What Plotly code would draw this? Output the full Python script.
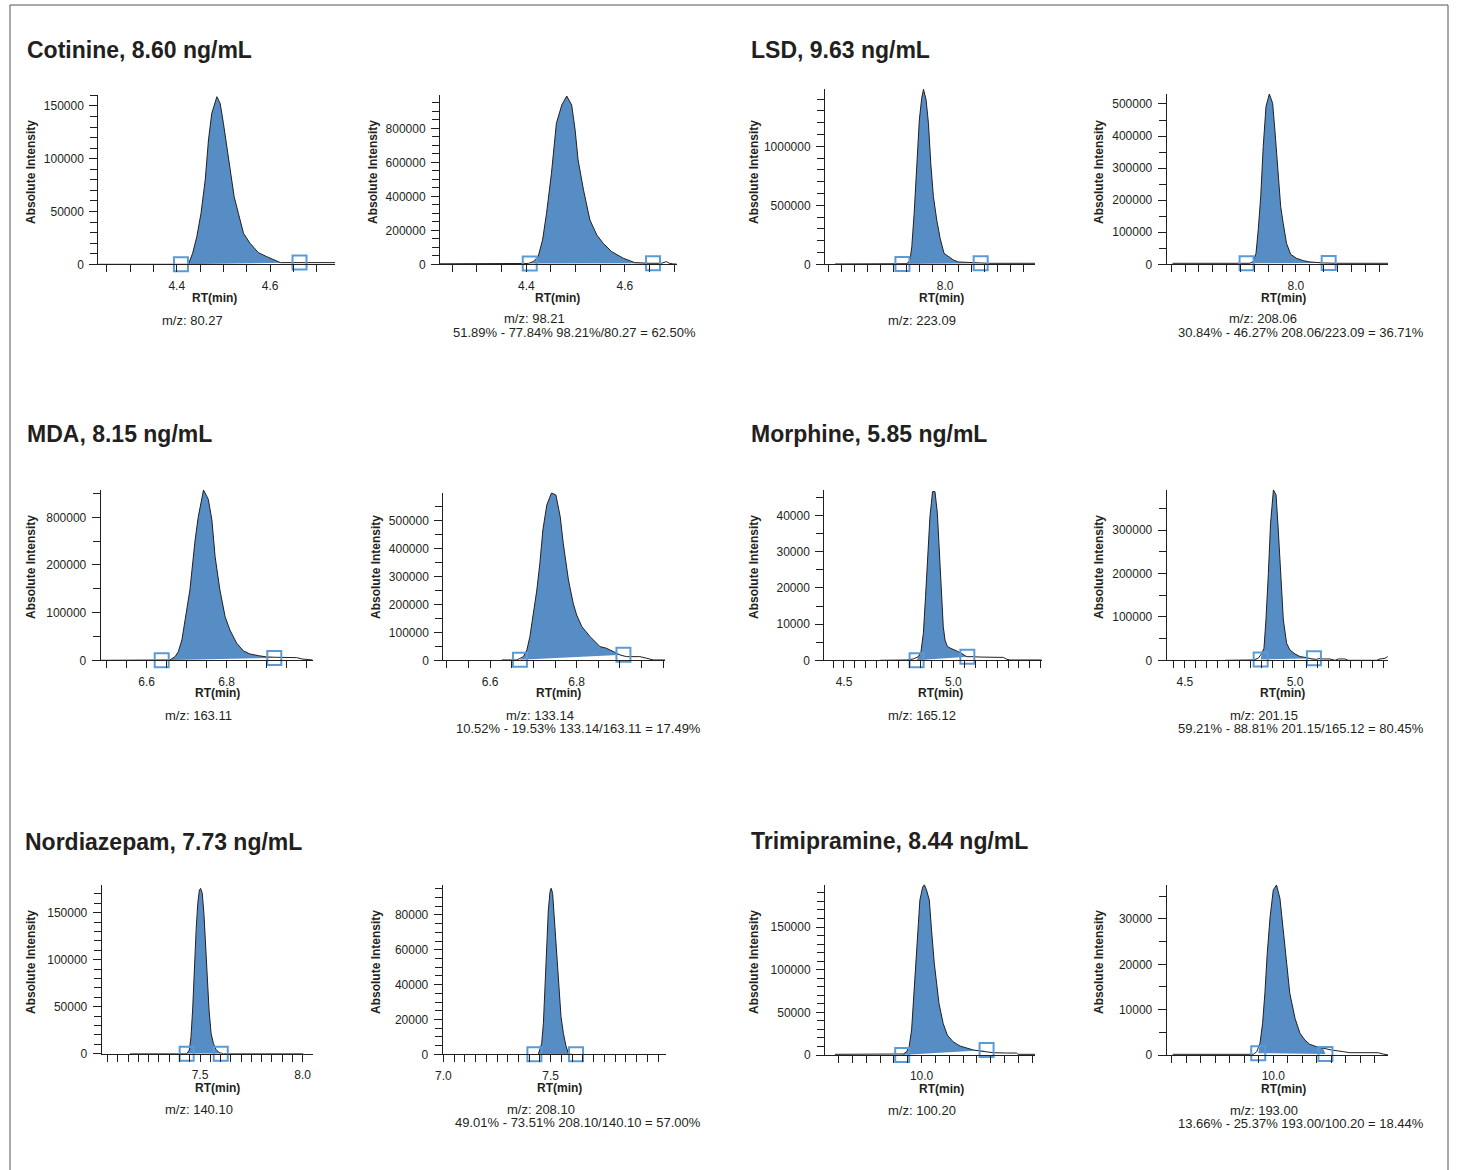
import plotly.graph_objects as go

W, H = 1457, 1170
FONT = "Liberation Sans, Arial, Helvetica, sans-serif"
INK = "#231f20"
FILL = "#568dc4"
BOX = "#5b9bd5"

# ---------------- data (RT in min, absolute intensity) ----------------
compounds = ["Cotinine, 8.60 ng/mL", "LSD, 9.63 ng/mL", "MDA, 8.15 ng/mL",
             "Morphine, 5.85 ng/mL", "Nordiazepam, 7.73 ng/mL", "Trimipramine, 8.44 ng/mL"]

mz_labels = ["m/z: 80.27", "m/z: 98.21", "m/z: 223.09", "m/z: 208.06",
             "m/z: 163.11", "m/z: 133.14", "m/z: 165.12", "m/z: 201.15",
             "m/z: 140.10", "m/z: 208.10", "m/z: 100.20", "m/z: 193.00"]

ratio_labels = [None, "51.89% - 77.84% 98.21%/80.27 = 62.50%",
                None, "30.84% - 46.27% 208.06/223.09 = 36.71%",
                None, "10.52% - 19.53% 133.14/163.11 = 17.49%",
                None, "59.21% - 88.81% 201.15/165.12 = 80.45%",
                None, "49.01% - 73.51% 208.10/140.10 = 57.00%",
                None, "13.66% - 25.37% 193.00/100.20 = 18.44%"]

# labelled RT ticks per panel
x_tick_values = [[4.4, 4.6], [4.4, 4.6], [8.0], [8.0],
                 [6.6, 6.8], [6.6, 6.8], [4.5, 5.0], [4.5, 5.0],
                 [7.5, 8.0], [7.0, 7.5], [10.0], [10.0]]

cot_q_rt = [4.232, 4.400, 4.425, 4.434, 4.443, 4.452, 4.461, 4.468, 4.475, 4.486, 4.493, 4.500,
            4.507, 4.514, 4.523, 4.532, 4.543, 4.557, 4.575, 4.593, 4.615, 4.622, 4.739]
cot_q_int = [0, 0, 0, 10400, 26200, 48300, 79900, 117800, 143000, 158800, 152500, 133600,
             111400, 89300, 64000, 48300, 29400, 19900, 11000, 7200, 2500, 1600, 1600]
cot_q_box_rt = [4.409, 4.663]
cot_q_box_int = [0, 1600]

cot_i_rt = [4.225, 4.404, 4.414, 4.424, 4.433, 4.441, 4.451, 4.461, 4.472, 4.482, 4.492, 4.499,
            4.505, 4.516, 4.529, 4.543, 4.556, 4.573, 4.597, 4.620, 4.651, 4.674, 4.684, 4.690,
            4.698, 4.705]
cot_i_int = [3000, 5000, 15700, 45100, 143100, 300000, 535300, 829400, 937300, 990200, 937300, 790200,
             613700, 437300, 260800, 172500, 123500, 74500, 35300, 9800, 6000, 6000, 15700, 6000,
             2000, 2000]
cot_i_box_rt = [4.407, 4.657]
cot_i_box_int = [4000, 6000]

lsd_q_rt = [7.577, 7.853, 7.865, 7.872, 7.881, 7.891, 7.901, 7.910, 7.917, 7.927, 7.936, 7.945,
            7.955, 7.968, 7.981, 7.996, 8.013, 8.032, 8.051, 8.096, 8.167, 8.346]
lsd_q_int = [3000, 5000, 36700, 149700, 432200, 856000, 1223000, 1406900, 1483000, 1392700, 1195000,
             856000, 573500, 375700, 220400, 93200, 65000, 36700, 19800, 14100, 8500, 8500]
lsd_q_box_rt = [7.836, 8.137]
lsd_q_box_int = [3000, 8500]

lsd_i_rt = [7.555, 7.834, 7.846, 7.856, 7.864, 7.873, 7.882, 7.892, 7.904, 7.916, 7.924, 7.934,
            7.945, 7.954, 7.966, 7.981, 8.002, 8.026, 8.050, 8.099, 8.147, 8.333]
lsd_i_int = [3100, 3100, 8300, 34300, 107000, 211000, 367000, 491700, 531200, 502000, 418900, 304600,
             179800, 127900, 65500, 31200, 18700, 11400, 7300, 4200, 3100, 3100]
lsd_i_box_rt = [7.822, 8.118]
lsd_i_box_int = [3100, 4200]

mda_q_rt = [6.485, 6.633, 6.658, 6.671, 6.679, 6.688, 6.696, 6.708, 6.721, 6.729, 6.742, 6.754,
            6.763, 6.771, 6.783, 6.796, 6.808, 6.825, 6.842, 6.858, 6.879, 6.900, 6.925, 6.942,
            6.975, 6.988, 7.004, 7.015]
mda_q_int = [0, 0, 700, 7700, 18200, 42700, 84600, 147600, 252400, 301400, 357300, 337800,
             294400, 217500, 147600, 91600, 63600, 35700, 19600, 13300, 9800, 7000, 6300, 5600,
             5600, 2800, 700, 700]
mda_q_box_rt = [6.6375, 6.919]
mda_q_box_int = [0, 5000]
mda_q_yticks = [0, 100000, 200000, 300000]
mda_q_ylabels = ["0", "100000", "200000", "800000"]

mda_i_rt = [6.627, 6.662, 6.677, 6.685, 6.692, 6.700, 6.708, 6.715, 6.722, 6.731, 6.742, 6.752,
            6.762, 6.769, 6.781, 6.792, 6.800, 6.812, 6.831, 6.854, 6.869, 6.885, 6.900, 6.915,
            6.931, 6.946, 6.962, 6.977, 7.004]
mda_i_int = [1200, 1200, 13100, 36900, 84500, 167900, 251200, 346400, 465500, 554800, 598000, 590500,
             513100, 417900, 286900, 203600, 161900, 120200, 84500, 48800, 42900, 31000, 19000, 13100,
             13100, 13100, 7100, 1200, 1200]
mda_i_box_rt = [6.669, 6.908]
mda_i_box_int = [2000, 20000]

mor_q_rt = [4.665, 4.787, 4.817, 4.840, 4.852, 4.863, 4.873, 4.883, 4.893, 4.905, 4.916, 4.927,
            4.936, 4.945, 4.954, 4.962, 4.973, 4.988, 5.000, 5.015, 5.038, 5.061, 5.091, 5.122,
            5.229, 5.244, 5.259, 5.335, 5.404]
mor_q_int = [0, 90, 370, 1000, 2400, 7500, 17600, 28700, 39700, 46640, 46640, 40650,
             29600, 17600, 9300, 5600, 3800, 3300, 2900, 2600, 1900, 1000, 1000, 900,
             800, 280, 90, 90, 90]
mor_q_box_rt = [4.832, 5.064]
mor_q_box_int = [0, 1000]

mor_i_rt = [4.682, 4.811, 4.833, 4.849, 4.859, 4.868, 4.879, 4.889, 4.902, 4.914, 4.924, 4.935,
            4.947, 4.962, 4.977, 5.000, 5.023, 5.053, 5.076, 5.098, 5.114, 5.129, 5.159, 5.182,
            5.197, 5.227, 5.242, 5.280, 5.371, 5.386, 5.409, 5.421]
mor_i_int = [0, 800, 4600, 16100, 27700, 93100, 200700, 316100, 393000, 381400, 300700, 185300,
             93100, 39200, 23800, 14600, 8500, 6200, 3100, 2300, 4600, 3100, 3100, 0,
             3100, 3100, 0, 0, 0, 3100, 4600, 8500]
mor_i_box_rt = [4.844, 5.086]
mor_i_box_int = [2000, 5000]

nor_q_rt = [7.159, 7.435, 7.448, 7.456, 7.464, 7.472, 7.481, 7.489, 7.497, 7.503, 7.511, 7.519,
            7.528, 7.536, 7.544, 7.554, 7.565, 7.578, 7.594, 7.614, 8.003]
nor_q_int = [0, 0, 3900, 18100, 46500, 89000, 131600, 159900, 174100, 175900, 170600, 149300,
             113800, 78400, 46500, 21600, 11000, 4600, 1100, 0, 0]
nor_q_box_rt = [7.435, 7.601]
nor_q_box_int = [0, 0]

nor_i_rt = [7.443, 7.458, 7.466, 7.474, 7.481, 7.489, 7.497, 7.502, 7.509, 7.517, 7.528, 7.539,
            7.548, 7.559, 7.570, 7.582]
nor_i_int = [200, 6300, 17800, 38900, 63700, 82900, 93400, 95300, 92400, 77100, 54200, 33100,
             21600, 12100, 5400, 600]
nor_i_box_rt = [7.424, 7.618]
nor_i_box_int = [0, 0]

tri_q_rt = [9.687, 9.934, 9.946, 9.955, 9.964, 9.972, 9.982, 9.994, 10.004, 10.010, 10.018, 10.028,
            10.036, 10.046, 10.063, 10.078, 10.093, 10.114, 10.139, 10.163, 10.187, 10.211, 10.235,
            10.259, 10.307, 10.343, 10.349, 10.410]
tri_q_int = [800, 1200, 3900, 9800, 29300, 72300, 126900, 181600, 196800, 199500, 193300, 181600,
             146500, 107400, 60500, 37100, 23400, 15600, 10500, 7800, 5900, 4700, 3900,
             2700, 2300, 2300, 800, 800]
tri_q_box_rt = [9.930, 10.235]
tri_q_box_int = [0, 5900]

tri_i_rt = [9.653, 9.931, 9.943, 9.954, 9.963, 9.971, 9.979, 9.989, 10.000, 10.011, 10.023, 10.032,
            10.044, 10.057, 10.075, 10.092, 10.109, 10.126, 10.149, 10.172, 10.201, 10.241, 10.264,
            10.310, 10.362, 10.379, 10.397]
tri_i_int = [150, 150, 740, 2570, 6980, 13600, 22400, 30500, 36400, 37500, 34500, 29000,
             20900, 13600, 8100, 4800, 3300, 2350, 1840, 1470, 1100, 740, 510,
             510, 510, 220, 0]
tri_i_box_rt = [9.948, 10.180]
tri_i_box_int = [400, 200]

series = [
    (cot_q_rt, cot_q_int, cot_q_box_rt, cot_q_box_int),
    (cot_i_rt, cot_i_int, cot_i_box_rt, cot_i_box_int),
    (lsd_q_rt, lsd_q_int, lsd_q_box_rt, lsd_q_box_int),
    (lsd_i_rt, lsd_i_int, lsd_i_box_rt, lsd_i_box_int),
    (mda_q_rt, mda_q_int, mda_q_box_rt, mda_q_box_int),
    (mda_i_rt, mda_i_int, mda_i_box_rt, mda_i_box_int),
    (mor_q_rt, mor_q_int, mor_q_box_rt, mor_q_box_int),
    (mor_i_rt, mor_i_int, mor_i_box_rt, mor_i_box_int),
    (nor_q_rt, nor_q_int, nor_q_box_rt, nor_q_box_int),
    (nor_i_rt, nor_i_int, nor_i_box_rt, nor_i_box_int),
    (tri_q_rt, tri_q_int, tri_q_box_rt, tri_q_box_int),
    (tri_i_rt, tri_i_int, tri_i_box_rt, tri_i_box_int),
]

# ---------------- layout geometry (pixels) and axis settings ----------------
# x0, x1, ytop, ybottom, xrange, yrange, y major dtick, y minor dtick
geo = [
    (98.3, 335.0, 95.0, 264.3, [4.232, 4.739], [0, 160400], 50000, 10000),
    (440.0, 676.7, 95.0, 264.3, [4.225, 4.705], [0, 996000], 200000, 50000),
    (825.0, 1035.0, 88.5, 264.3, [7.538, 8.346], [0, 1490000], 500000, 100000),
    (1166.7, 1388.3, 93.7, 264.3, [7.534, 8.333], [0, 532000], 100000, 50000),
    (100.7, 312.7, 489.7, 660.3, [6.485, 7.015], [0, 358000], None, 50000),
    (443.3, 665.0, 492.6, 660.3, [6.492, 7.004], [0, 599000], 100000, 50000),
    (824.3, 1041.7, 489.6, 660.3, [4.410, 5.404], [0, 47200], 10000, 5000),
    (1166.7, 1388.3, 489.5, 660.3, [4.417, 5.424], [0, 394000], 100000, 50000),
    (101.7, 312.7, 885.1, 1053.7, [7.021, 8.049], [0, 179400], 50000, 10000),
    (442.7, 666.0, 885.0, 1054.3, [6.997, 8.037], [0, 97200], 20000, 5000),
    (825.0, 1035.0, 884.5, 1055.0, [9.651, 10.410], [0, 199800], 50000, 10000),
    (1166.7, 1388.3, 884.5, 1055.0, [9.632, 10.397], [0, 37600], 10000, 5000),
]

# text positions (pixels)
title_pos = [(25, 50), (749, 50), (25, 434), (749, 434), (23, 842), (749, 841)]
ytitle_pos = [(31, 172), (373, 172), (754, 172), (1099, 172),
              (31, 567), (376, 567), (754, 567), (1099, 567),
              (31, 962), (376, 962), (754, 962), (1099, 962)]
xtitle_pos = [(215, 298), (557, 298), (941, 298), (1283, 298),
              (217, 693), (558, 693), (940, 693), (1282, 693),
              (217, 1088), (559, 1088), (941, 1089), (1283, 1089)]
mz_pos = [(192, 320), (534, 319), (922, 320), (1263, 319),
          (198, 715), (540, 715), (922, 715), (1264, 715),
          (199, 1109), (541, 1109), (922, 1110), (1264, 1110)]
ratio_pos = [None, (574, 332), None, (1301, 332),
             None, (578, 728), None, (1301, 728),
             None, (578, 1122), None, (1301, 1123)]


def fx(x):
    return x / W


def fy(y):
    return 1 - y / H


fig = go.Figure()
layout = dict(
    template="none",
    width=W, height=H, margin=dict(l=0, r=0, t=0, b=0, pad=0, autoexpand=False),
    paper_bgcolor="white", plot_bgcolor="white", showlegend=False,
    font=dict(family=FONT, size=12, color=INK),
)
annotations = []

for i, ((rt, inten, brt, bint), g) in enumerate(zip(series, geo)):
    n = i + 1
    sfx = "" if n == 1 else str(n)
    xa, ya = "x" + sfx, "y" + sfx
    x0, x1, yt, yb, xr, yr, ydt, ymn = g

    # integrated area between the integration markers
    px = [brt[0]] + [r for r in rt if brt[0] < r < brt[1]] + [brt[1]]
    py = [bint[0]] + [v for r, v in zip(rt, inten) if brt[0] < r < brt[1]] + [bint[1]]
    fig.add_trace(go.Scatter(x=px, y=py, fill="toself", fillcolor=FILL, mode="lines",
                             line=dict(width=0, color=FILL), xaxis=xa, yaxis=ya,
                             hoverinfo="skip"))
    fig.add_trace(go.Scatter(x=rt, y=inten, mode="lines", line=dict(color=INK, width=1),
                             xaxis=xa, yaxis=ya))
    fig.add_trace(go.Scatter(x=brt, y=bint, mode="markers", cliponaxis=False,
                             marker=dict(symbol="square-open", size=14, color=BOX,
                                         line=dict(width=2, color=BOX)),
                             xaxis=xa, yaxis=ya))

    xt = x_tick_values[i]
    layout["xaxis" + sfx] = dict(
        domain=[fx(x0), fx(x1)], range=xr, anchor=ya, automargin=False,
        showline=True, linecolor=INK, linewidth=1, mirror=False,
        ticks="outside", ticklen=7, tickcolor=INK, tickwidth=1,
        tickmode="array", tickvals=xt, ticktext=["%.1f" % v for v in xt],
        minor=dict(tickmode="linear", dtick=0.05, tick0=0, ticks="outside", ticklen=7,
                   tickcolor=INK, showgrid=False),
        showgrid=False, zeroline=False, tickfont=dict(size=12, color=INK, family=FONT),
        ticklabelstandoff=3,
    )
    yax = dict(
        domain=[fy(yb), fy(yt)], range=yr, anchor=xa, automargin=False,
        showline=True, linecolor=INK, linewidth=1,
        ticks="outside", ticklen=8, tickcolor=INK, tickwidth=1,
        minor=dict(tickmode="linear", dtick=ymn, tick0=0, ticks="outside", ticklen=7,
                   tickcolor=INK, showgrid=False),
        showgrid=False, zeroline=False, tickfont=dict(size=12, color=INK, family=FONT),
        ticklabelstandoff=3,
    )
    if ydt is None:
        yax.update(tickmode="array", tickvals=mda_q_yticks, ticktext=mda_q_ylabels)
    else:
        yax.update(tick0=0, dtick=ydt, tickformat="d")
    layout["yaxis" + sfx] = yax

    # axis titles and m/z captions
    tx, ty = ytitle_pos[i]
    annotations.append(dict(x=fx(tx), y=fy(ty), xref="paper", yref="paper", showarrow=False,
                            text="<b>Absolute Intensity</b>", textangle=-90,
                            font=dict(size=12, family=FONT, color=INK),
                            xanchor="center", yanchor="middle"))
    tx, ty = xtitle_pos[i]
    annotations.append(dict(x=fx(tx), y=fy(ty), xref="paper", yref="paper", showarrow=False,
                            text="<b>RT(min)</b>", font=dict(size=12, family=FONT, color=INK),
                            xanchor="center", yanchor="middle"))
    tx, ty = mz_pos[i]
    annotations.append(dict(x=fx(tx), y=fy(ty), xref="paper", yref="paper", showarrow=False,
                            text=mz_labels[i], font=dict(size=13, family=FONT, color=INK),
                            xanchor="center", yanchor="middle"))
    if ratio_labels[i]:
        tx, ty = ratio_pos[i]
        annotations.append(dict(x=fx(tx), y=fy(ty), xref="paper", yref="paper", showarrow=False,
                                text=ratio_labels[i], font=dict(size=13, family=FONT, color=INK),
                                xanchor="center", yanchor="middle"))

for name, (tx, ty) in zip(compounds, title_pos):
    annotations.append(dict(x=fx(tx), y=fy(ty), xref="paper", yref="paper", showarrow=False,
                            text="<b>" + name + "</b>", font=dict(size=23, family=FONT, color=INK),
                            xanchor="left", yanchor="middle"))

layout["annotations"] = annotations
layout["shapes"] = [dict(type="rect", xref="paper", yref="paper",
                         x0=fx(10), x1=fx(1448), y0=fy(1180), y1=fy(5),
                         line=dict(color="#555555", width=1), fillcolor="rgba(0,0,0,0)")]
fig.update_layout(**layout)

PAGE_FIX = (
    "(function(){"
    "var h=document.documentElement,b=document.body;"
    "h.style.margin='0';h.style.padding='0';h.style.overflow='hidden';"
    "b.style.margin='0';b.style.padding='0';b.style.overflow='hidden';"
    "var gd=document.getElementById('{plot_id}');"
    "gd.style.position='absolute';gd.style.left='0px';gd.style.top='0px';"
    "})();"
)
fig.write_html("out.html", post_script=PAGE_FIX)
